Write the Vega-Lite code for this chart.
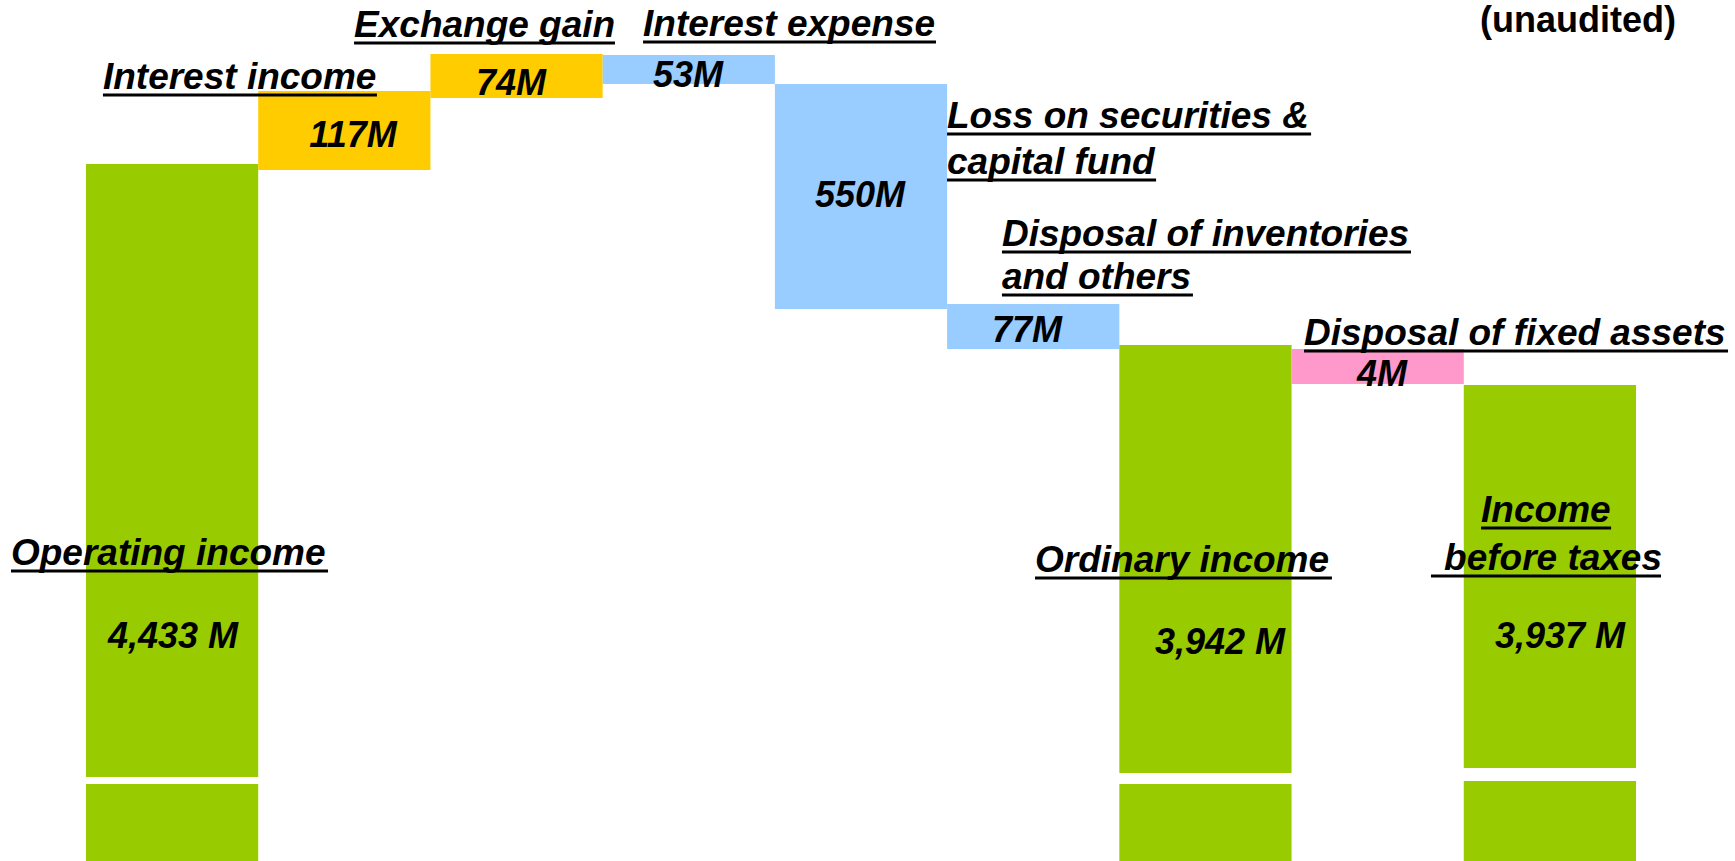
{
  "$schema": "https://vega.github.io/schema/vega-lite/v6.json",
  "width": 1735,
  "height": 861,
  "padding": 0,
  "autosize": {"type": "none"},
  "background": "white",
  "config": {"view": {"stroke": null}, "axis": {"disable": true}, "legend": {"disable": true}},
  "datasets": {
    "bars": [
      {"step": "Operating income", "kind": "Total", "amount": 4433, "low": 84, "high": 697},
      {"step": "Operating income", "kind": "Total", "amount": 4433, "low": 0, "high": 77},
      {"step": "Interest income", "kind": "Gain", "amount": 117, "low": 691, "high": 770},
      {"step": "Exchange gain", "kind": "Gain", "amount": 74, "low": 763, "high": 807},
      {"step": "Interest expense", "kind": "Loss", "amount": -53, "low": 777, "high": 806},
      {"step": "Loss on securities & capital fund", "kind": "Loss", "amount": -550, "low": 552, "high": 777},
      {"step": "Disposal of inventories and others", "kind": "Loss", "amount": -77, "low": 512, "high": 557},
      {"step": "Ordinary income", "kind": "Total", "amount": 3942, "low": 88, "high": 516},
      {"step": "Ordinary income", "kind": "Total", "amount": 3942, "low": 0, "high": 77},
      {"step": "Disposal of fixed assets", "kind": "Fixed", "amount": -4, "low": 477, "high": 512},
      {"step": "Income before taxes", "kind": "Total", "amount": 3937, "low": 93, "high": 476},
      {"step": "Income before taxes", "kind": "Total", "amount": 3937, "low": 0, "high": 80}
    ],
    "labels": [
      {"label": "Interest income", "at": 0.110, "from": 0.110, "to": 1.701, "line": 766},
      {"label": "Exchange gain", "at": 1.568, "from": 1.568, "to": 3.083, "line": 818},
      {"label": "Interest expense", "at": 3.246, "from": 3.246, "to": 4.947, "line": 819},
      {"label": "Loss on securities &", "at": 5.011, "from": 5.011, "to": 7.125, "line": 727},
      {"label": "capital fund", "at": 5.011, "from": 5.011, "to": 6.225, "line": 681},
      {"label": "Disposal of inventories", "at": 5.330, "from": 5.330, "to": 7.705, "line": 609},
      {"label": "and others", "at": 5.330, "from": 5.330, "to": 6.439, "line": 566},
      {"label": "Disposal of fixed assets", "at": 7.084, "from": 7.084, "to": 9.546, "line": 510},
      {"label": "Operating income", "at": -0.424, "from": -0.424, "to": 1.417, "line": 290},
      {"label": "Ordinary income", "at": 5.522, "from": 5.522, "to": 7.246, "line": 283},
      {"label": "Income", "at": 8.112, "from": 8.112, "to": 8.867, "line": 333},
      {"label": "before taxes", "at": 7.897, "from": 7.821, "to": 9.157, "line": 285}
    ],
    "values": [
      {"value": "4,433 M", "pos": 0.517, "base": 213},
      {"value": "117M", "pos": 1.562, "base": 714},
      {"value": "74M", "pos": 2.479, "base": 766},
      {"value": "53M", "pos": 3.507, "base": 774},
      {"value": "550M", "pos": 4.506, "base": 654},
      {"value": "77M", "pos": 5.476, "base": 519},
      {"value": "3,942 M", "pos": 6.596, "base": 207},
      {"value": "4M", "pos": 7.537, "base": 475},
      {"value": "3,937 M", "pos": 8.570, "base": 213}
    ],
    "notes": [
      {"note": "(unaudited)", "pos": 9.244, "base": 829}
    ]
  },
  "layer": [
    {
      "data": {"name": "bars"},
      "mark": {"type": "bar", "cornerRadius": 0},
      "encoding": {
        "x": {"field": "step", "type": "nominal", "sort": null, "axis": null,
              "scale": {"range": [86, 1636], "paddingInner": 0, "paddingOuter": 0}},
        "y": {"field": "low", "type": "quantitative", "axis": null,
              "scale": {"domain": [0, 861], "nice": false, "zero": true}},
        "y2": {"field": "high"},
        "color": {"field": "kind", "type": "nominal", "legend": null,
                  "scale": {"domain": ["Total", "Gain", "Loss", "Fixed"], "range": ["#99CC00", "#FFCC00", "#99CCFF", "#FF99CC"]}}
      }
    },
    {
      "data": {"name": "labels"},
      "mark": {"type": "rule", "strokeWidth": 3, "color": "black"},
      "encoding": {
        "x": {"field": "from", "type": "quantitative", "axis": null,
              "scale": {"domain": [0, 9], "range": [84, 1634], "nice": false, "zero": false}},
        "x2": {"field": "to"},
        "y": {"field": "line", "type": "quantitative", "axis": null}
      }
    },
    {
      "data": {"name": "labels"},
      "mark": {"type": "text", "align": "left", "baseline": "alphabetic", "dy": -6,
               "font": "Liberation Sans", "fontSize": 37, "fontWeight": "bold", "fontStyle": "italic", "color": "black"},
      "encoding": {
        "x": {"field": "at", "type": "quantitative", "axis": null,
              "scale": {"domain": [0, 9], "range": [84, 1634], "nice": false, "zero": false}},
        "y": {"field": "line", "type": "quantitative", "axis": null},
        "text": {"field": "label"}
      }
    },
    {
      "data": {"name": "values"},
      "mark": {"type": "text", "align": "center", "baseline": "alphabetic",
               "font": "Liberation Sans", "fontSize": 36, "fontWeight": "bold", "fontStyle": "italic", "color": "black"},
      "encoding": {
        "x": {"field": "pos", "type": "quantitative", "axis": null,
              "scale": {"domain": [0, 9], "range": [84, 1634], "nice": false, "zero": false}},
        "y": {"field": "base", "type": "quantitative", "axis": null},
        "text": {"field": "value"}
      }
    },
    {
      "data": {"name": "notes"},
      "mark": {"type": "text", "align": "right", "baseline": "alphabetic",
               "font": "Liberation Sans", "fontSize": 36, "fontWeight": "bold", "color": "black"},
      "encoding": {
        "x": {"field": "pos", "type": "quantitative", "axis": null,
              "scale": {"domain": [0, 9], "range": [84, 1634], "nice": false, "zero": false}},
        "y": {"field": "base", "type": "quantitative", "axis": null},
        "text": {"field": "note"}
      }
    }
  ],
  "resolve": {"scale": {"x": "independent"}}
}
